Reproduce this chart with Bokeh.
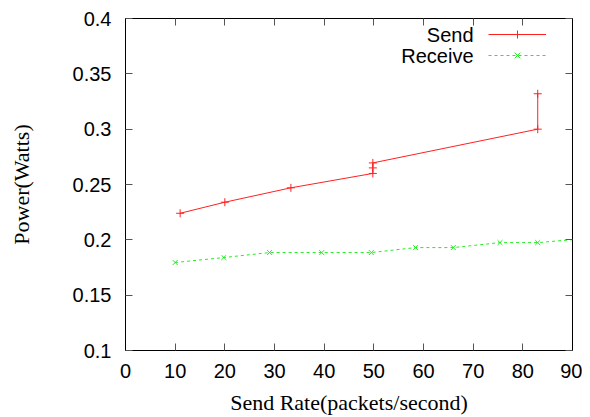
from bokeh.plotting import figure
from bokeh.models import LinearAxis, FixedTicker, Range1d, Legend, LegendItem, Label
from bokeh.embed import file_html
from bokeh.resources import INLINE

send_x = [11, 20, 33.3, 49.8, 49.8, 49.8, 83, 83]
send_y = [0.224, 0.234, 0.247, 0.260, 0.265, 0.2695, 0.300, 0.332]
recv_x = [10, 19.8, 29, 39.5, 49.5, 58.4, 66, 75.4, 83, 91]
recv_y = [0.1795, 0.184, 0.1885, 0.1885, 0.1885, 0.193, 0.193, 0.1975, 0.1975, 0.2005]
x_ticks = [0, 10, 20, 30, 40, 50, 60, 70, 80, 90]
y_ticks = [0.1, 0.15, 0.2, 0.25, 0.3, 0.35, 0.4]
y_tick_labels = ["0.1", "0.15", "0.2", "0.25", "0.3", "0.35", "0.4"]
series_names = ["Send", "Receive"]

p = figure(width=582, height=415, frame_width=447, frame_height=332,
           output_backend="svg", toolbar_location=None,
           x_range=Range1d(0, 90), y_range=Range1d(0.1, 0.4),
           min_border_left=125, min_border_right=10, min_border_top=18, min_border_bottom=65,
           x_axis_label="Send Rate(packets/second)", y_axis_label="Power(Watts)")
p.grid.visible = False
p.outline_line_color = "black"
p.outline_line_width = 1
p.background_fill_color = "white"
p.border_fill_color = "white"

def style_axis(ax):
    ax.major_tick_in = 7
    ax.major_tick_out = 0
    ax.minor_tick_line_color = None
    ax.major_tick_line_color = "#555555"
    ax.axis_line_color = "black"
    ax.major_label_text_font = "Liberation Sans"
    ax.major_label_text_font_size = "20px"
    ax.major_label_text_color = "black"
    ax.axis_label_text_font = "Liberation Serif"
    ax.axis_label_text_font_size = "22px"
    ax.axis_label_text_font_style = "normal"
    ax.axis_label_text_color = "black"

xa = p.xaxis[0]
ya = p.yaxis[0]
xa.ticker = FixedTicker(ticks=x_ticks)
ya.ticker = FixedTicker(ticks=y_ticks)
ya.major_label_overrides = {t: l for t, l in zip(y_ticks, y_tick_labels)}
style_axis(xa)
style_axis(ya)
xa.major_label_standoff = 13
ya.major_label_standoff = 14
xa.axis_label_standoff = 9
ya.axis_label_standoff = 36

top = LinearAxis(ticker=FixedTicker(ticks=x_ticks))
right = LinearAxis(ticker=FixedTicker(ticks=y_ticks))
for ax in (top, right):
    style_axis(ax)
    ax.major_label_text_font_size = "0px"
    ax.major_label_standoff = 0
    ax.major_label_overrides = {t: "" for t in (x_ticks if ax is top else y_ticks)}
p.add_layout(top, "above")
p.add_layout(right, "right")

r1 = p.line(send_x, send_y, line_color="#ff2020", line_width=1)
m1 = p.scatter(send_x, send_y, marker="cross", size=8, line_color="#ff2020", line_width=1)
r2 = p.line(recv_x, recv_y, line_color="#22ee22", line_width=1, line_dash="3 3")
m2 = p.scatter(recv_x, recv_y, marker="x", size=7, line_color="#22ee22", line_width=1)

# gnuplot-style key: sample glyphs (legend without text) with right-aligned labels to their left
legend = Legend(items=[LegendItem(label="", renderers=[r1, m1]),
                       LegendItem(label="", renderers=[r2, m2])],
                location=(363, 285), border_line_color=None, background_fill_alpha=0,
                label_standoff=0, label_width=0, label_height=20,
                glyph_width=58, glyph_height=20, spacing=1, padding=0, margin=0)
p.add_layout(legend, "center")

for i, name in enumerate(series_names):
    p.add_layout(Label(x=348, y=316 - i * 21, x_units="screen", y_units="screen",
                       text=name, text_align="right", text_baseline="middle",
                       text_font="Liberation Sans", text_font_size="20px",
                       text_color="black"))

open("out.html", "w").write(file_html(p, INLINE))
